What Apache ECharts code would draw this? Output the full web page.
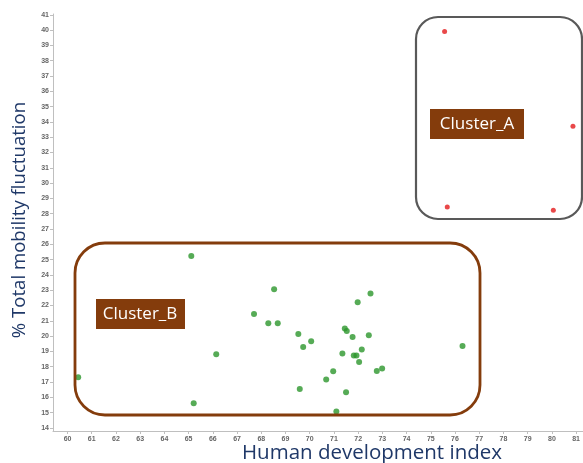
<!DOCTYPE html>
<html>
<head>
<meta charset="utf-8">
<script src="https://cdn.jsdelivr.net/npm/echarts@6/dist/echarts.min.js"></script>
<style>html,body{margin:0;padding:0;background:#fff}#c{width:583px;height:463px}</style>
</head>
<body>
<div id="c"></div>
<script>
// Data (x = Human development index, y = % Total mobility fluctuation)
const clusterAX = [75.57, 80.87, 75.68, 80.06];
const clusterAY = [39.91, 33.71, 28.43, 28.22];
const clusterBX = [65.11, 68.53, 67.70, 68.29, 68.68, 66.14, 60.44, 65.21,
  72.51, 71.98, 69.53, 70.06, 69.73, 71.45, 71.53, 71.77, 72.44, 72.15,
  71.35, 71.82, 71.93, 72.04, 76.31, 70.97, 70.68, 72.77, 72.99, 69.59, 71.50, 71.10];
const clusterBY = [25.23, 23.06, 21.45, 20.84, 20.84, 18.81, 17.31, 15.61,
  22.78, 22.21, 20.14, 19.66, 19.29, 20.49, 20.34, 19.94, 20.05, 19.12,
  18.86, 18.73, 18.73, 18.31, 19.36, 17.70, 17.16, 17.72, 17.88, 16.55, 16.33, 15.07];
const xTicks = [60,61,62,63,64,65,66,67,68,69,70,71,72,73,74,75,76,77,78,79,80,81];
const yTicks = [14,15,16,17,18,19,20,21,22,23,24,25,26,27,28,29,30,31,32,33,34,35,36,37,38,39,40,41];
const xTitle = 'Human development index';
const yTitle = '% Total mobility fluctuation';
const clusterNames = ['Cluster_A', 'Cluster_B'];

const chart = echarts.init(document.getElementById('c'));
const zip = (xs, ys) => xs.map((x, i) => [x, ys[i]]);
const tickLabel = { color: '#666666', fontSize: 7, fontFamily: 'Liberation Sans, Arial', fontWeight: 'bold' };

chart.setOption({
  animation: false,
  grid: { left: 53, right: 0, top: 14, bottom: 32 },
  xAxis: {
    type: 'value', min: 59.4, max: 81.27,
    axisLine: { lineStyle: { color: '#bfbfbf' } },
    axisTick: { show: true, length: 3, customValues: xTicks, lineStyle: { color: '#bfbfbf' } },
    axisLabel: Object.assign({ customValues: xTicks, margin: 5 }, tickLabel),
    splitLine: { show: false }
  },
  yAxis: {
    type: 'value', min: 13.8, max: 41.05,
    axisLine: { show: true, lineStyle: { color: '#bfbfbf' } },
    axisTick: { show: true, length: 3, customValues: yTicks, lineStyle: { color: '#bfbfbf' } },
    axisLabel: Object.assign({ customValues: yTicks, margin: 4 }, tickLabel),
    splitLine: { show: false }
  },
  series: [
    { name: clusterNames[0], type: 'scatter', data: zip(clusterAX, clusterAY), symbolSize: 5,
      itemStyle: { color: '#e31a1c' } },
    { name: clusterNames[1], type: 'scatter', data: zip(clusterBX, clusterBY), symbolSize: 6,
      itemStyle: { color: '#2c962c' } }
  ],
  graphic: [
    { type: 'rect', shape: { x: 416, y: 17, width: 166, height: 202, r: 22 },
      style: { fill: 'none', stroke: '#595959', lineWidth: 2.2 }, z: 10 },
    { type: 'rect', shape: { x: 430, y: 109, width: 94, height: 30 },
      style: { fill: '#843c0c' }, z: 11 },
    { type: 'text', x: 477, y: 124, style: { text: clusterNames[0], fill: '#fff', fontSize: 17,
      fontFamily: 'Open Sans', align: 'center', verticalAlign: 'middle' }, z: 12 },
    { type: 'rect', shape: { x: 75, y: 243, width: 405, height: 172, r: 30 },
      style: { fill: 'none', stroke: '#843c0c', lineWidth: 2.8 }, z: 10 },
    { type: 'rect', shape: { x: 96, y: 299, width: 89, height: 30 },
      style: { fill: '#843c0c' }, z: 11 },
    { type: 'text', x: 140, y: 314, style: { text: clusterNames[1], fill: '#fff', fontSize: 17,
      fontFamily: 'Open Sans', align: 'center', verticalAlign: 'middle' }, z: 12 },
    { type: 'text', x: 372, y: 453, style: { text: xTitle, fill: '#1f3868', fontSize: 20.5,
      fontFamily: 'Open Sans', align: 'center', verticalAlign: 'middle' } },
    { type: 'text', x: 20, y: 220, rotation: Math.PI / 2, style: { text: yTitle, fill: '#1f3868', fontSize: 18.6,
      fontFamily: 'Open Sans', align: 'center', verticalAlign: 'middle' } }
  ]
});
</script>
</body>
</html>
